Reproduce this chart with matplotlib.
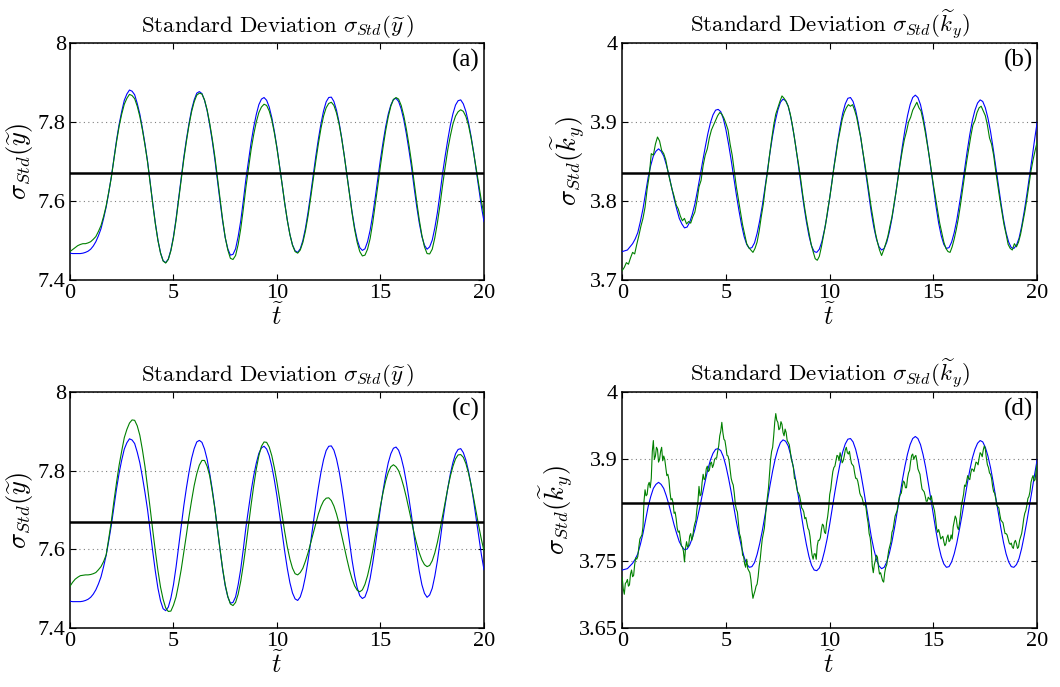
import numpy as np
import matplotlib
matplotlib.use("Agg")
import matplotlib.pyplot as plt

plt.rcParams.update({
    "font.family": "serif",
    "font.serif": ["Liberation Serif", "DejaVu Serif"],
    "mathtext.fontset": "cm",
})

# ---- data ----
t_smooth = np.arange(0, 20.001, 0.125)
t_b = np.arange(0, 20.001, 0.1)
t_d = np.arange(0, 20.001, 0.05)

# reference (blue) curve for the position spread, panels (a) and (c)
y_ref = [7.468, 7.467, 7.467, 7.467, 7.467, 7.468, 7.470, 7.473,
         7.478, 7.486, 7.497, 7.512, 7.530, 7.556, 7.585, 7.622,
         7.662, 7.709, 7.754, 7.794, 7.827, 7.855, 7.871, 7.881,
         7.878, 7.869, 7.847, 7.820, 7.784, 7.744, 7.700, 7.646,
         7.594, 7.544, 7.501, 7.469, 7.449, 7.444, 7.453, 7.476,
         7.510, 7.555, 7.607, 7.659, 7.711, 7.756, 7.796, 7.831,
         7.856, 7.873, 7.877, 7.872, 7.855, 7.829, 7.793, 7.752,
         7.705, 7.651, 7.599, 7.549, 7.507, 7.479, 7.463, 7.465,
         7.479, 7.510, 7.550, 7.601, 7.656, 7.703, 7.748, 7.787,
         7.819, 7.844, 7.858, 7.862, 7.855, 7.838, 7.811, 7.776,
         7.735, 7.689, 7.642, 7.594, 7.551, 7.515, 7.489, 7.474,
         7.470, 7.479, 7.500, 7.531, 7.571, 7.617, 7.666, 7.713,
         7.757, 7.796, 7.828, 7.851, 7.862, 7.863, 7.852, 7.830,
         7.799, 7.760, 7.715, 7.667, 7.619, 7.573, 7.533, 7.502,
         7.482, 7.475, 7.479, 7.497, 7.526, 7.565, 7.610, 7.658,
         7.706, 7.749, 7.788, 7.820, 7.843, 7.857, 7.860, 7.852,
         7.833, 7.806, 7.770, 7.729, 7.685, 7.634, 7.586, 7.544,
         7.510, 7.488, 7.478, 7.484, 7.501, 7.532, 7.571, 7.619,
         7.670, 7.714, 7.755, 7.792, 7.821, 7.843, 7.854, 7.856,
         7.846, 7.827, 7.799, 7.764, 7.723, 7.677, 7.630, 7.586,
         7.548]

# green curve, panel (a)
y_a = [7.472, 7.477, 7.482, 7.487, 7.490, 7.492, 7.492, 7.494,
       7.497, 7.503, 7.510, 7.523, 7.538, 7.561, 7.588, 7.623,
       7.660, 7.706, 7.750, 7.789, 7.820, 7.845, 7.860, 7.870,
       7.867, 7.859, 7.840, 7.814, 7.780, 7.741, 7.698, 7.644,
       7.592, 7.542, 7.500, 7.468, 7.448, 7.443, 7.452, 7.474,
       7.507, 7.551, 7.603, 7.654, 7.706, 7.751, 7.792, 7.826,
       7.851, 7.868, 7.873, 7.871, 7.856, 7.831, 7.797, 7.757,
       7.712, 7.659, 7.606, 7.553, 7.508, 7.476, 7.455, 7.452,
       7.462, 7.490, 7.530, 7.580, 7.635, 7.683, 7.730, 7.768,
       7.800, 7.824, 7.838, 7.845, 7.842, 7.828, 7.805, 7.772,
       7.733, 7.688, 7.642, 7.594, 7.551, 7.515, 7.488, 7.472,
       7.468, 7.476, 7.495, 7.524, 7.562, 7.607, 7.655, 7.701,
       7.745, 7.784, 7.815, 7.836, 7.847, 7.850, 7.842, 7.823,
       7.795, 7.758, 7.715, 7.666, 7.618, 7.570, 7.528, 7.495,
       7.472, 7.461, 7.463, 7.478, 7.505, 7.545, 7.592, 7.640,
       7.690, 7.736, 7.778, 7.813, 7.840, 7.857, 7.862, 7.858,
       7.842, 7.816, 7.782, 7.742, 7.698, 7.647, 7.598, 7.552,
       7.513, 7.484, 7.467, 7.466, 7.478, 7.507, 7.545, 7.590,
       7.640, 7.686, 7.730, 7.765, 7.795, 7.815, 7.826, 7.831,
       7.827, 7.814, 7.792, 7.760, 7.722, 7.681, 7.640, 7.600,
       7.565]

# green curve, panel (c)
y_c = [7.506, 7.516, 7.524, 7.529, 7.533, 7.534, 7.535, 7.535,
       7.536, 7.538, 7.541, 7.548, 7.556, 7.569, 7.586, 7.628,
       7.672, 7.723, 7.770, 7.814, 7.850, 7.884, 7.905, 7.921,
       7.929, 7.928, 7.914, 7.890, 7.853, 7.810, 7.758, 7.704,
       7.648, 7.595, 7.546, 7.504, 7.473, 7.451, 7.442, 7.443,
       7.458, 7.479, 7.512, 7.549, 7.593, 7.637, 7.683, 7.724,
       7.762, 7.792, 7.814, 7.826, 7.826, 7.811, 7.787, 7.747,
       7.703, 7.651, 7.600, 7.551, 7.510, 7.480, 7.461, 7.457,
       7.465, 7.486, 7.519, 7.561, 7.609, 7.661, 7.713, 7.761,
       7.804, 7.838, 7.862, 7.873, 7.872, 7.860, 7.838, 7.807,
       7.770, 7.729, 7.686, 7.644, 7.606, 7.575, 7.552, 7.538,
       7.535, 7.541, 7.552, 7.570, 7.591, 7.616, 7.642, 7.667,
       7.690, 7.709, 7.723, 7.730, 7.731, 7.724, 7.710, 7.690,
       7.665, 7.636, 7.606, 7.576, 7.548, 7.525, 7.507, 7.496,
       7.492, 7.497, 7.511, 7.533, 7.562, 7.596, 7.634, 7.673,
       7.711, 7.745, 7.774, 7.796, 7.810, 7.815, 7.810, 7.800,
       7.782, 7.759, 7.732, 7.702, 7.671, 7.641, 7.614, 7.591,
       7.573, 7.561, 7.556, 7.559, 7.571, 7.591, 7.618, 7.650,
       7.685, 7.721, 7.755, 7.786, 7.811, 7.830, 7.840, 7.841,
       7.834, 7.818, 7.794, 7.764, 7.730, 7.694, 7.658, 7.625,
       7.596]

# reference (blue) curve for the momentum spread, panels (b) and (d)
k_ref = [3.736, 3.737, 3.738, 3.742, 3.746, 3.752, 3.760, 3.774,
         3.790, 3.810, 3.830, 3.845, 3.857, 3.863, 3.866, 3.863,
         3.857, 3.846, 3.833, 3.818, 3.803, 3.790, 3.778, 3.771,
         3.766, 3.767, 3.773, 3.783, 3.796, 3.813, 3.831, 3.850,
         3.868, 3.885, 3.899, 3.909, 3.915, 3.916, 3.913, 3.904,
         3.890, 3.872, 3.852, 3.830, 3.808, 3.788, 3.770, 3.755,
         3.745, 3.740, 3.741, 3.747, 3.759, 3.775, 3.794, 3.816,
         3.839, 3.862, 3.883, 3.901, 3.915, 3.925, 3.929, 3.927,
         3.920, 3.906, 3.888, 3.867, 3.843, 3.819, 3.795, 3.774,
         3.756, 3.743, 3.736, 3.735, 3.739, 3.749, 3.764, 3.782,
         3.804, 3.828, 3.852, 3.874, 3.894, 3.911, 3.923, 3.930,
         3.931, 3.926, 3.915, 3.899, 3.879, 3.857, 3.833, 3.809,
         3.786, 3.767, 3.752, 3.742, 3.738, 3.740, 3.748, 3.761,
         3.778, 3.799, 3.822, 3.846, 3.869, 3.890, 3.908, 3.922,
         3.931, 3.934, 3.931, 3.922, 3.907, 3.888, 3.865, 3.841,
         3.816, 3.793, 3.772, 3.756, 3.745, 3.740, 3.741, 3.748,
         3.760, 3.776, 3.796, 3.817, 3.840, 3.863, 3.884, 3.902,
         3.915, 3.924, 3.928, 3.926, 3.918, 3.905, 3.888, 3.867,
         3.844, 3.821, 3.798, 3.777, 3.760, 3.748, 3.741, 3.740,
         3.744, 3.753, 3.768, 3.787, 3.808, 3.831, 3.854, 3.878,
         3.900]

# green curve, panel (b)
k_b = [3.712, 3.716, 3.722, 3.720, 3.728, 3.735, 3.733, 3.745, 3.756, 3.768,
       3.778, 3.792, 3.815, 3.832, 3.860, 3.858, 3.872, 3.881, 3.876, 3.864,
       3.860, 3.852, 3.838, 3.826, 3.815, 3.806, 3.795, 3.790, 3.781, 3.775,
       3.778, 3.771, 3.774, 3.772, 3.780, 3.786, 3.800, 3.818, 3.826, 3.845,
       3.858, 3.866, 3.880, 3.890, 3.896, 3.902, 3.908, 3.912, 3.910, 3.905,
       3.898, 3.890, 3.872, 3.858, 3.838, 3.818, 3.802, 3.786, 3.770, 3.758,
       3.746, 3.741, 3.738, 3.735, 3.740, 3.748, 3.762, 3.780, 3.796, 3.818,
       3.836, 3.858, 3.878, 3.896, 3.910, 3.918, 3.926, 3.933, 3.930, 3.926,
       3.920, 3.910, 3.896, 3.880, 3.862, 3.846, 3.828, 3.808, 3.790, 3.774,
       3.760, 3.746, 3.736, 3.727, 3.725, 3.730, 3.742, 3.756, 3.770, 3.788,
       3.804, 3.822, 3.842, 3.858, 3.876, 3.889, 3.903, 3.912, 3.918, 3.922,
       3.920, 3.922, 3.915, 3.906, 3.892, 3.880, 3.862, 3.846, 3.828, 3.810,
       3.792, 3.776, 3.760, 3.748, 3.738, 3.731, 3.738, 3.746, 3.755, 3.768,
       3.780, 3.796, 3.812, 3.830, 3.848, 3.864, 3.878, 3.888, 3.900, 3.906,
       3.915, 3.920, 3.925, 3.918, 3.914, 3.902, 3.888, 3.872, 3.856, 3.838,
       3.820, 3.804, 3.788, 3.772, 3.760, 3.748, 3.740, 3.736, 3.735, 3.742,
       3.752, 3.764, 3.778, 3.795, 3.814, 3.832, 3.850, 3.866, 3.882, 3.896,
       3.902, 3.912, 3.918, 3.920, 3.914, 3.908, 3.896, 3.880, 3.872, 3.858,
       3.838, 3.820, 3.802, 3.786, 3.770, 3.758, 3.745, 3.740, 3.738, 3.746,
       3.742, 3.748, 3.758, 3.772, 3.786, 3.802, 3.820, 3.838, 3.852, 3.864,
       3.875]

# green curve, panel (d), one row per time unit
k_d = [3.725, 3.708, 3.700, 3.716, 3.718, 3.722, 3.712, 3.714, 3.730, 3.736,
       3.726, 3.728, 3.744, 3.754, 3.752, 3.756, 3.770, 3.782, 3.785, 3.788,
       3.800, 3.838, 3.855, 3.846, 3.848, 3.862, 3.866, 3.858, 3.872, 3.912,
       3.928, 3.900, 3.905, 3.918, 3.915, 3.896, 3.900, 3.912, 3.918, 3.898,
       3.905, 3.900, 3.888, 3.876, 3.878, 3.870, 3.852, 3.840, 3.842, 3.836,
       3.820, 3.822, 3.812, 3.798, 3.792, 3.794, 3.783, 3.772, 3.770, 3.764,
       3.748, 3.768, 3.778, 3.770, 3.772, 3.786, 3.790, 3.780, 3.786, 3.798,
       3.805, 3.810, 3.826, 3.838, 3.860, 3.846, 3.848, 3.866, 3.878, 3.870,
       3.872, 3.886, 3.890, 3.882, 3.884, 3.894, 3.896, 3.888, 3.892, 3.900,
       3.902, 3.902, 3.912, 3.920, 3.935, 3.942, 3.955, 3.940, 3.930, 3.928,
       3.918, 3.906, 3.905, 3.898, 3.885, 3.872, 3.866, 3.862, 3.850, 3.834,
       3.826, 3.822, 3.806, 3.790, 3.785, 3.776, 3.758, 3.756, 3.745, 3.740,
       3.752, 3.738, 3.735, 3.732, 3.722, 3.706, 3.694, 3.700, 3.705, 3.712,
       3.715, 3.726, 3.742, 3.752, 3.768, 3.782, 3.790, 3.798, 3.815, 3.832,
       3.845, 3.858, 3.880, 3.900, 3.912, 3.918, 3.935, 3.955, 3.968, 3.958,
       3.955, 3.944, 3.946, 3.956, 3.952, 3.940, 3.935, 3.945, 3.940, 3.928,
       3.925, 3.922, 3.912, 3.900, 3.895, 3.888, 3.872, 3.870, 3.860, 3.852,
       3.850, 3.846, 3.838, 3.828, 3.826, 3.822, 3.812, 3.814, 3.806, 3.798,
       3.795, 3.786, 3.770, 3.758, 3.752, 3.760, 3.760, 3.752, 3.772, 3.780,
       3.780, 3.784, 3.796, 3.804, 3.802, 3.792, 3.790, 3.806, 3.815, 3.828,
       3.848, 3.856, 3.870, 3.882, 3.888, 3.890, 3.898, 3.906, 3.905, 3.898,
       3.910, 3.904, 3.895, 3.898, 3.905, 3.914, 3.918, 3.910, 3.908, 3.912,
       3.902, 3.894, 3.892, 3.890, 3.880, 3.872, 3.872, 3.868, 3.860, 3.850,
       3.846, 3.844, 3.838, 3.832, 3.836, 3.828, 3.815, 3.806, 3.790, 3.784,
       3.770, 3.742, 3.732, 3.744, 3.750, 3.758, 3.755, 3.740, 3.730, 3.732,
       3.726, 3.720, 3.718, 3.732, 3.740, 3.744, 3.756, 3.766, 3.772, 3.778,
       3.792, 3.796, 3.806, 3.816, 3.820, 3.824, 3.834, 3.844, 3.848, 3.850,
       3.860, 3.868, 3.866, 3.858, 3.858, 3.872, 3.880, 3.884, 3.897, 3.906,
       3.908, 3.900, 3.904, 3.906, 3.898, 3.886, 3.882, 3.878, 3.866, 3.856,
       3.854, 3.852, 3.846, 3.838, 3.838, 3.844, 3.842, 3.840, 3.846, 3.836,
       3.830, 3.824, 3.812, 3.798, 3.792, 3.796, 3.790, 3.782, 3.784, 3.786,
       3.778, 3.772, 3.775, 3.784, 3.788, 3.778, 3.780, 3.788, 3.782, 3.800,
       3.808, 3.816, 3.812, 3.800, 3.796, 3.804, 3.818, 3.832, 3.840, 3.848,
       3.862, 3.860, 3.868, 3.876, 3.872, 3.870, 3.880, 3.886, 3.885, 3.882,
       3.889, 3.896, 3.895, 3.892, 3.902, 3.910, 3.908, 3.904, 3.914, 3.920,
       3.915, 3.902, 3.892, 3.888, 3.880, 3.878, 3.872, 3.860, 3.852, 3.850,
       3.842, 3.832, 3.830, 3.828, 3.818, 3.810, 3.808, 3.806, 3.798, 3.790,
       3.790, 3.788, 3.782, 3.776, 3.774, 3.776, 3.770, 3.768, 3.777, 3.780,
       3.775, 3.768, 3.770, 3.780, 3.785, 3.790, 3.800, 3.812, 3.820, 3.824,
       3.832, 3.842, 3.845, 3.852, 3.866, 3.872, 3.876, 3.868, 3.870, 3.884,
       3.893]

mean_y = 7.670
mean_k = 3.836

y_ticks = [7.4, 7.6, 7.8, 8.0]
y_ticklabels = ["7.4", "7.6", "7.8", "8"]
kb_ticks = [3.7, 3.8, 3.9, 4.0]
kb_ticklabels = ["3.7", "3.8", "3.9", "4"]
kd_ticks = [3.65, 3.75, 3.9, 4.0]
kd_ticklabels = ["3.65", "3.75", "3.9", "4"]
x_ticks = [0, 5, 10, 15, 20]

title_y = r"$\mathrm{Standard\ Deviation}\ \sigma_{Std}(\widetilde{y}\,)$"
title_k = r"$\mathrm{Standard\ Deviation}\ \sigma_{Std}(\widetilde{k}_y)$"
label_y = r"$\sigma_{Std}(\widetilde{y})$"
label_k = r"$\sigma_{Std}(\widetilde{k}_y)$"

BLUE = "#0000ff"
GREEN = "#008000"

fig = plt.figure(figsize=(10.6, 6.87), dpi=100)
positions = [
    [0.066, 0.5924, 0.3906, 0.345],
    [0.587, 0.5924, 0.3915, 0.345],
    [0.066, 0.0859, 0.3906, 0.3435],
    [0.587, 0.0859, 0.3915, 0.3435],
]

panels = [
    (t_smooth, y_ref, t_smooth, y_a, mean_y, y_ticks, y_ticklabels, title_y, label_y, "(a)"),
    (t_smooth, k_ref, t_b, k_b, mean_k, kb_ticks, kb_ticklabels, title_k, label_k, "(b)"),
    (t_smooth, y_ref, t_smooth, y_c, mean_y, y_ticks, y_ticklabels, title_y, label_y, "(c)"),
    (t_smooth, k_ref, t_d, k_d, mean_k, kd_ticks, kd_ticklabels, title_k, label_k, "(d)"),
]

for pos, (tb, vb, tg, vg, mean, yt, ytl, title, ylab, tag) in zip(positions, panels):
    ax = fig.add_axes(pos)
    ax.plot(tb, vb, color=BLUE, lw=0.8, zorder=3)
    ax.plot(tg, vg, color=GREEN, lw=0.8, zorder=4)
    ax.axhline(mean, color="black", lw=1.8, zorder=5)

    ax.set_xlim(0, 20)
    ax.set_ylim(yt[0], yt[-1])
    ax.set_xticks(x_ticks)
    ax.set_xticklabels([str(v) for v in x_ticks])
    ax.set_yticks(yt)
    ax.set_yticklabels(ytl)
    ax.tick_params(direction="in", length=4, width=0.8, labelsize=16,
                   top=True, right=True, pad=3)
    ax.yaxis.grid(True, linestyle=(0, (1, 3)), color="#808080", lw=0.8)
    ax.set_axisbelow(True)
    for s in ax.spines.values():
        s.set_linewidth(1.1)

    ax.set_title(title, fontsize=16.5, pad=8)
    ax.set_ylabel(ylab, fontsize=19, labelpad=2)
    ax.set_xlabel(r"$\widetilde{t}$", fontsize=19, labelpad=0)
    ax.text(0.99, 0.975, tag, transform=ax.transAxes, ha="right", va="top",
            fontsize=18, zorder=6)

fig.savefig("out.png", dpi=100)
